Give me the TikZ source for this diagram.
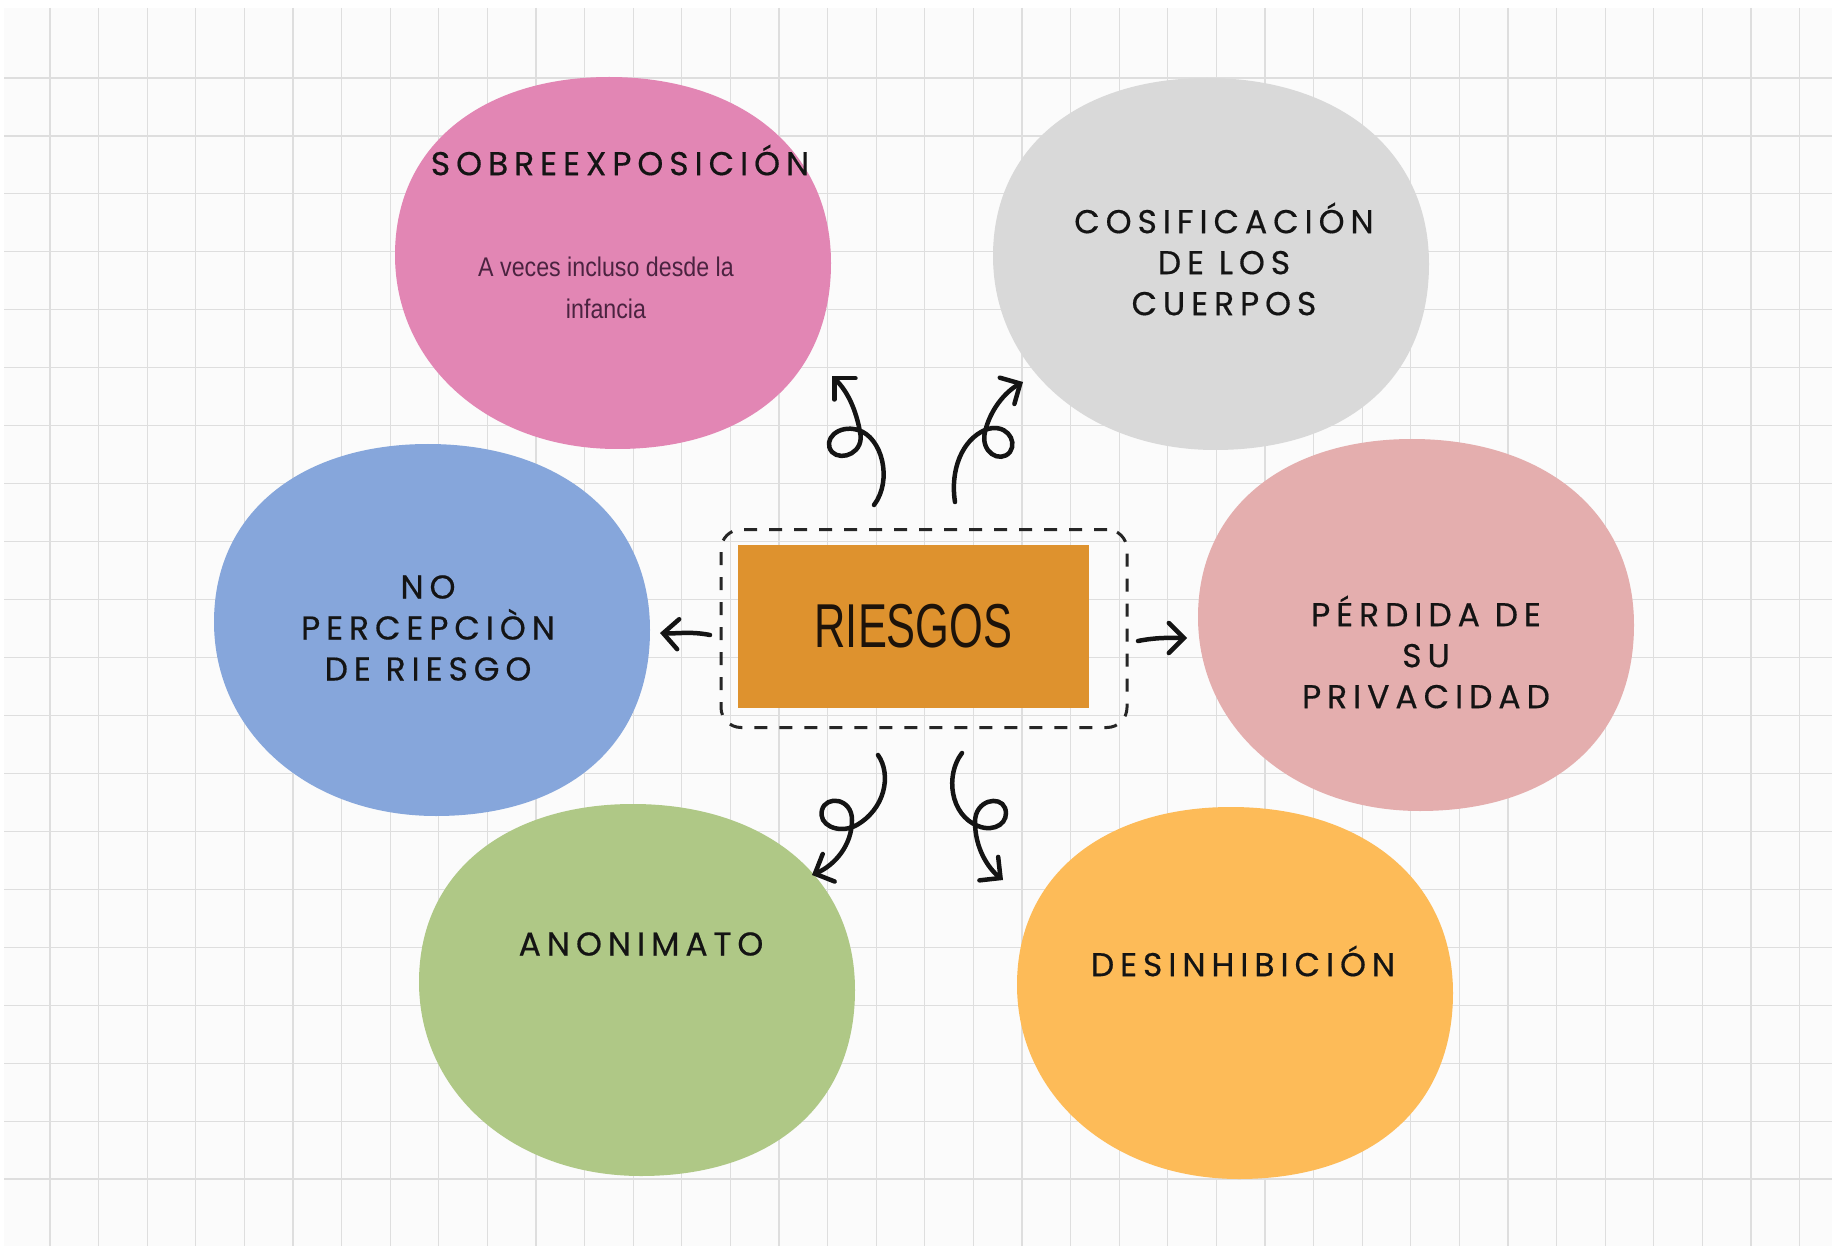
\documentclass[tikz,border=0pt]{standalone}
\usepackage{fontspec}
\usepackage{tikz}
\usetikzlibrary{calc}
\usetikzlibrary{arrows.meta}

\newfontfamily\capsfont[LetterSpace=18,FakeBold=0.5]{Poppins}
\newfontfamily\narrowfont[FakeStretch=0.7]{Liberation Sans}
\newfontfamily\notefont[FakeStretch=0.86]{Liberation Sans}

\definecolor{paper}{HTML}{FBFBFB}
\definecolor{gridgray}{HTML}{DEDEDE}
\definecolor{pinkblob}{HTML}{E286B4}
\definecolor{grayblob}{HTML}{D9D9D9}
\definecolor{blueblob}{HTML}{86A6DB}
\definecolor{roseblob}{HTML}{E4AEAE}
\definecolor{greenblob}{HTML}{AFC886}
\definecolor{orangeblob}{HTML}{FDBB58}
\definecolor{boxorange}{HTML}{DE922E}
\definecolor{plum}{HTML}{4B2340}

% one round, slightly uneven blob around a centre
\newcommand{\blob}[2]{%
  \fill[#2] ($(#1)+(218,0)$) .. controls +(0,118) and +(128,0) .. ($(#1)+(4,186)$)
    .. controls +(-128,0) and +(0,110) .. ($(#1)+(-218,-8)$)
    .. controls +(0,-112) and +(-124,0) .. ($(#1)+(-4,-186)$)
    .. controls +(128,0) and +(0,-116) .. cycle;}

\tikzset{
  gridline/.style={gridgray, line width=1.2pt},
  label/.style={font=\capsfont\fontsize{33}{41}\selectfont, text=black!92, align=center, inner sep=0pt},
  note/.style={font=\notefont\fontsize{27}{42}\selectfont, text=plum, align=center, inner sep=0pt},
  box/.style={fill=boxorange, minimum width=351pt, minimum height=163pt, inner sep=0pt,
    font=\narrowfont\fontsize{62}{70}\selectfont, text=black!85!brown},
  frame/.style={draw=black!85, line width=3pt, dash pattern=on 13pt off 12pt,
    rounded corners=20pt, minimum width=406pt, minimum height=198pt},
  curly/.style={line width=4.5pt, line cap=round, draw=black!92,
    -{Straight Barb[length=15pt,width=30pt,line cap=round]}},
}

\begin{document}
\begin{tikzpicture}[x=1pt,y=-1pt]
\useasboundingbox (0,0) rectangle (1832,1246);
% paper
\fill [white] (0,0) rectangle (1832,1246);
\fill [paper] (4,8) rectangle (1832,1246);
\foreach \gx in {0,...,36}
  \draw [gridline] ({50+48.6*\gx},8) -- ++(0,1238);
\foreach \gy in {0,...,19}
  \draw [gridline] (4,{78+57.95*\gy}) -- (1832,{78+57.95*\gy});

% blobs
\coordinate (c-sobre) at (613,263);
\coordinate (c-cosif) at (1211,264);
\coordinate (c-noperc) at (432,630);
\coordinate (c-perdida) at (1416,625);
\coordinate (c-anon) at (637,990);
\coordinate (c-desin) at (1235,993);
\blob{c-sobre}{pinkblob}
\blob{c-cosif}{grayblob}
\blob{c-noperc}{blueblob}
\blob{c-perdida}{roseblob}
\blob{c-anon}{greenblob}
\blob{c-desin}{orangeblob}

% labels
\node [label] (sobre) at (620,160) {SOBREEXPOSICIÓN};
\node [note] (infancia) at (606,288) {A veces incluso desde la\\infancia};
\node [label] (cosif) at (1224,259) {COSIFICACIÓN\\DE LOS\\CUERPOS};
\node [label] (noperc) at (428,628) {NO\\PERCEPCIÒN\\DE RIESGO};
\node [label] (perdida) at (1426,652) {PÉRDIDA DE\\SU\\PRIVACIDAD};
\node [label] (anon) at (641,944) {ANONIMATO};
\node [label] (desin) at (1243,961) {DESINHIBICIÓN};

% centre
\node [frame] (frame) at (924,628.5) {};
\node [box] (riesgos) at (913.5,626) {RIESGOS};

% arrows
\coordinate (tl-s) at (874,505);
\coordinate (tl-e) at (832,376);
\coordinate (tr-s) at (955,502);
\coordinate (tr-e) at (1023,382);
\coordinate (bl-s) at (878,755);
\coordinate (bl-e) at (812,875);
\coordinate (br-s) at (962,753);
\coordinate (br-e) at (1003,880);
\coordinate (l-s) at (710,635);
\coordinate (l-e) at (660,633);
\coordinate (r-s) at (1138,641);
\coordinate (r-e) at (1187,638);
\draw [curly] (tl-s) .. controls (893,480) and (882,437) .. (858,430) .. controls (838,424) and (822,440) .. (832,452) .. controls (842,462) and (865,452) .. (860,432) .. controls (856,410) and (848,392) .. (tl-e);
\draw [curly] (tr-s) .. controls (950,470) and (962,440) .. (985,430) .. controls (1005,422) and (1018,440) .. (1010,452) .. controls (1000,464) and (980,452) .. (985,432) .. controls (990,410) and (1005,392) .. (tr-e);
\draw [curly] (bl-s) .. controls (892,775) and (885,810) .. (855,826) .. controls (838,834) and (818,825) .. (822,810) .. controls (826,795) and (852,798) .. (852,820) .. controls (852,845) and (835,865) .. (bl-e);
\draw [curly] (br-s) .. controls (945,775) and (950,815) .. (978,826) .. controls (995,833) and (1010,822) .. (1005,808) .. controls (1000,795) and (975,800) .. (975,822) .. controls (975,848) and (988,868) .. (br-e);
\draw [curly] (l-s) .. controls (690,631) and (675,634) .. (l-e);
\draw [curly] (r-s) .. controls (1158,637) and (1172,638) .. (r-e);
\end{tikzpicture}
\end{document}
